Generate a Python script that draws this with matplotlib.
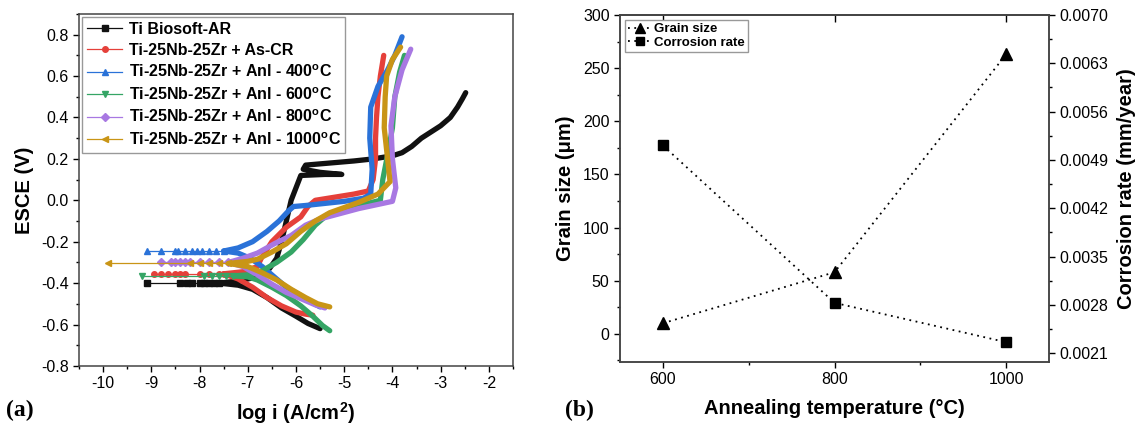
import matplotlib
matplotlib.use("Agg")
import matplotlib.pyplot as plt
from matplotlib.ticker import MultipleLocator, FixedLocator

plt.rcParams['font.family'] = ['Liberation Sans', 'DejaVu Sans']
plt.rcParams['mathtext.fontset'] = 'custom'
plt.rcParams['mathtext.rm'] = 'Liberation Sans'
plt.rcParams['mathtext.bf'] = 'Liberation Sans:bold'
plt.rcParams['axes.unicode_minus'] = False

# ---------------- (a) potentiodynamic polarization curves ----------------
labels_a = ['Ti Biosoft-AR', 'Ti-25Nb-25Zr + As-CR',
            'Ti-25Nb-25Zr + Anl - 400$^{\\mathbf{o}}$C',
            'Ti-25Nb-25Zr + Anl - 600$^{\\mathbf{o}}$C',
            'Ti-25Nb-25Zr + Anl - 800$^{\\mathbf{o}}$C',
            'Ti-25Nb-25Zr + Anl - 1000$^{\\mathbf{o}}$C']

# corrosion potentials (V) and the sparse points near them (log i)
ecorr = [-0.40, -0.355, -0.245, -0.365, -0.30, -0.305]
tail_biosoft = [-9.1, -8.4, -8.25, -8.15, -8.0, -7.9, -7.8, -7.7, -7.6]
tail_ascr = [-8.95, -8.8, -8.65, -8.5, -8.4, -8.3, -8.0, -7.8, -7.6, -7.5]
tail_400 = [-9.1, -8.8, -8.5, -8.45, -8.3, -8.15, -8.05, -7.95, -7.8, -7.65, -7.5]
tail_600 = [-9.2, -7.9, -7.75, -7.6, -7.45, -7.3]
tail_800 = [-8.8, -8.6, -8.5, -8.4, -8.3, -8.2, -8.0, -7.8, -7.6, -7.4]
tail_1000 = [-9.9, -8.2, -8.0, -7.8, -7.6, -7.4]

# cathodic branches (log i, E)
cat_biosoft_i = [-7.6, -7.2, -6.9, -6.6, -6.3, -6.0, -5.75, -5.5]
cat_biosoft_e = [-0.40, -0.41, -0.43, -0.47, -0.52, -0.56, -0.595, -0.62]
cat_ascr_i = [-7.5, -7.2, -6.9, -6.6, -6.3, -6.0, -5.8, -5.65]
cat_ascr_e = [-0.355, -0.38, -0.42, -0.47, -0.51, -0.54, -0.55, -0.555]
cat_400_i = [-7.5, -7.2, -6.95, -6.7, -6.45, -6.2, -5.9, -5.7, -5.5]
cat_400_e = [-0.245, -0.255, -0.28, -0.32, -0.37, -0.42, -0.46, -0.49, -0.515]
cat_600_i = [-7.3, -7.0, -6.8, -6.5, -6.2, -5.9, -5.65, -5.45, -5.3]
cat_600_e = [-0.365, -0.37, -0.385, -0.42, -0.46, -0.51, -0.56, -0.605, -0.63]
cat_800_i = [-7.4, -7.1, -6.8, -6.5, -6.2, -5.9, -5.6, -5.4]
cat_800_e = [-0.30, -0.32, -0.36, -0.405, -0.445, -0.475, -0.505, -0.52]
cat_1000_i = [-7.4, -7.0, -6.7, -6.4, -6.1, -5.8, -5.55, -5.3]
cat_1000_e = [-0.305, -0.32, -0.35, -0.385, -0.43, -0.47, -0.50, -0.515]

# anodic branches (log i, E)
an_biosoft_i = [-7.6, -7.2, -6.8, -6.55, -6.4, -6.3, -6.2, -6.1, -6.0, -5.9,
                -5.4, -5.05, -5.5, -5.85, -5.8, -5.3, -4.8, -4.4, -4.0, -3.8,
                -3.6, -3.4, -3.2, -3.0, -2.8, -2.65, -2.55, -2.48]
an_biosoft_e = [-0.40, -0.39, -0.37, -0.33, -0.28, -0.20, -0.10, 0.0, 0.06, 0.12,
                0.125, 0.125, 0.135, 0.15, 0.17, 0.18, 0.19, 0.20, 0.215, 0.23,
                0.26, 0.30, 0.33, 0.36, 0.40, 0.45, 0.49, 0.52]
an_ascr_i = [-7.5, -7.1, -6.8, -6.72, -6.5, -6.2, -5.9, -5.75, -5.6, -5.2,
             -4.8, -4.5, -4.4, -4.35, -4.35, -4.33, -4.3, -4.25, -4.18]
an_ascr_e = [-0.355, -0.345, -0.32, -0.28, -0.20, -0.13, -0.08, -0.03, 0.0, 0.015,
             0.03, 0.045, 0.10, 0.20, 0.30, 0.40, 0.50, 0.60, 0.70]
an_400_i = [-7.5, -7.2, -6.9, -6.6, -6.35, -6.15, -6.05, -5.8, -5.4, -5.0,
            -4.6, -4.45, -4.42, -4.47, -4.45, -4.3, -4.1, -3.95, -3.8]
an_400_e = [-0.245, -0.23, -0.20, -0.15, -0.10, -0.05, -0.03, -0.025, -0.015, -0.005,
            0.01, 0.03, 0.15, 0.30, 0.45, 0.55, 0.63, 0.70, 0.79]
an_600_i = [-7.3, -7.0, -6.7, -6.4, -6.1, -5.85, -5.6, -5.35, -5.0, -4.6,
            -4.25, -4.2, -4.1, -4.0, -3.95, -3.85, -3.75]
an_600_e = [-0.365, -0.36, -0.34, -0.30, -0.25, -0.19, -0.12, -0.07, -0.04, -0.02,
            0.0, 0.10, 0.22, 0.35, 0.50, 0.62, 0.70]
an_800_i = [-7.4, -7.1, -6.8, -6.45, -6.1, -5.8, -5.5, -5.1, -4.7, -4.3,
            -4.0, -3.93, -4.0, -4.03, -3.95, -3.8, -3.62]
an_800_e = [-0.30, -0.28, -0.255, -0.21, -0.17, -0.12, -0.09, -0.065, -0.04, -0.02,
            -0.005, 0.06, 0.20, 0.36, 0.50, 0.63, 0.73]
an_1000_i = [-7.4, -7.0, -6.8, -6.5, -6.2, -5.9, -5.6, -5.3, -5.0, -4.7,
             -4.3, -4.05, -4.1, -4.17, -4.15, -4.12, -4.0, -3.83]
an_1000_e = [-0.305, -0.295, -0.285, -0.25, -0.21, -0.15, -0.10, -0.06, -0.035, -0.01,
             0.03, 0.09, 0.20, 0.35, 0.50, 0.60, 0.68, 0.74]

colors_a = ['#111111', '#e5403a', '#2a72d8', '#35a565', '#a878e2', '#c99516']
markers_a = ['s', 'o', '^', 'v', 'D', '<']
tails = [tail_biosoft, tail_ascr, tail_400, tail_600, tail_800, tail_1000]
cathodic = [(cat_biosoft_i, cat_biosoft_e), (cat_ascr_i, cat_ascr_e), (cat_400_i, cat_400_e),
            (cat_600_i, cat_600_e), (cat_800_i, cat_800_e), (cat_1000_i, cat_1000_e)]
anodic = [(an_biosoft_i, an_biosoft_e), (an_ascr_i, an_ascr_e), (an_400_i, an_400_e),
          (an_600_i, an_600_e), (an_800_i, an_800_e), (an_1000_i, an_1000_e)]

# ---------------- (b) grain size / corrosion rate ----------------
anneal_temp = [600, 800, 1000]
grain_size = [10, 58, 263]
corrosion_rate = [0.00511, 0.00283, 0.00226]
rate_ticks = [0.0021, 0.0028, 0.0035, 0.0042, 0.0049, 0.0056, 0.0063, 0.0070]

fig = plt.figure(figsize=(11.45, 4.24), dpi=100)
ax_a = fig.add_axes([0.069, 0.137, 0.379, 0.830])
ax_b = fig.add_axes([0.5415, 0.1474, 0.3747, 0.8172])

for k in range(6):
    c = colors_a[k]
    ax_a.plot(tails[k], [ecorr[k]] * len(tails[k]), color=c, lw=0.9,
              marker=markers_a[k], ms=4, label=labels_a[k])
    ax_a.plot(*cathodic[k], color=c, lw=3.8, solid_capstyle='round', solid_joinstyle='round')
    ax_a.plot(*anodic[k], color=c, lw=3.8, solid_capstyle='round', solid_joinstyle='round')

ax_a.set_xlim(-10.5, -1.5)
ax_a.set_ylim(-0.8, 0.9)
ax_a.xaxis.set_major_locator(FixedLocator(range(-10, -1)))
ax_a.xaxis.set_minor_locator(MultipleLocator(0.5))
ax_a.yaxis.set_major_locator(FixedLocator([-0.8, -0.6, -0.4, -0.2, 0.0, 0.2, 0.4, 0.6, 0.8]))
ax_a.yaxis.set_minor_locator(MultipleLocator(0.1))
ax_a.tick_params(which='both', direction='out', labelsize=11.5, width=1)
ax_a.tick_params(which='major', length=4)
ax_a.tick_params(which='minor', length=2.5)
ax_a.set_xlabel('log i (A/cm$^{\\mathbf{2}}$)', fontsize=14.5, fontweight='bold', labelpad=6)
ax_a.set_ylabel('ESCE (V)', fontsize=14.5, fontweight='bold', labelpad=5)
for s in ax_a.spines.values():
    s.set_color('#444444')
    s.set_linewidth(1.1)
leg = ax_a.legend(loc='upper left', prop={'size': 11.5, 'weight': 'bold'}, fancybox=False,
                  edgecolor='#999999', framealpha=1, labelspacing=0.37, borderaxespad=0.2,
                  handlelength=2.2, handletextpad=0.4, borderpad=0.3)
leg.get_frame().set_linewidth(1.0)

dotted = (0, (1, 2.5))
ax_b.plot(anneal_temp, grain_size, color='black', ls=dotted, lw=1.3, marker='^', ms=8.5,
          label='Grain size')
ax_r = ax_b.twinx()
ax_r.plot(anneal_temp, corrosion_rate, color='black', ls=dotted, lw=1.3, marker='s', ms=7.5,
          label='Corrosion rate')

ax_b.set_xlim(550, 1050)
ax_b.set_ylim(-26, 300)
ax_r.set_ylim(0.00198, 0.0070)
ax_b.xaxis.set_major_locator(FixedLocator(anneal_temp))
ax_b.xaxis.set_minor_locator(FixedLocator([700, 900]))
ax_b.yaxis.set_major_locator(MultipleLocator(50))
ax_b.yaxis.set_minor_locator(MultipleLocator(25))
ax_r.yaxis.set_major_locator(FixedLocator(rate_ticks))
ax_r.yaxis.set_minor_locator(MultipleLocator(0.00035))
ax_r.set_yticklabels(['%.4f' % v for v in rate_ticks])
for a in (ax_b, ax_r):
    a.tick_params(which='both', direction='out', labelsize=11.5, width=1)
    a.tick_params(which='major', length=4)
    a.tick_params(which='minor', length=2.5)
    for s in a.spines.values():
        s.set_color('#444444')
        s.set_linewidth(1.1)

# inward major ticks along the top
ax_top = ax_b.secondary_xaxis('top')
ax_top.set_xticks(anneal_temp)
ax_top.set_xticklabels([])
ax_top.tick_params(direction='in', length=5, width=1)
ax_top.spines['top'].set_color('#444444')
ax_top.spines['top'].set_linewidth(1.1)

ax_b.set_xlabel('Annealing temperature (\u00b0C)', fontsize=14.5, fontweight='bold', labelpad=9)
ax_b.set_ylabel('Grain size (\u03bcm)', fontsize=14.5, fontweight='bold', labelpad=6)
ax_r.set_ylabel('Corrosion rate (mm/year)', fontsize=14.5, fontweight='bold', labelpad=6)

h1, l1 = ax_b.get_legend_handles_labels()
h2, l2 = ax_r.get_legend_handles_labels()
leg_b = ax_r.legend(h1 + h2, l1 + l2, loc='upper left', prop={'size': 9.5, 'weight': 'bold'},
                    fancybox=False, edgecolor='#999999', framealpha=1, labelspacing=0.12,
                    borderaxespad=0.35, handlelength=1.8, handletextpad=0.2, borderpad=0.25,
                    markerscale=0.85)
leg_b.get_frame().set_linewidth(1.0)

fig.text(0.005, 0.033, '(a)', family='Liberation Serif', fontweight='bold', fontsize=17,
         va='center', ha='left')
fig.text(0.4935, 0.033, '(b)', family='Liberation Serif', fontweight='bold', fontsize=17,
         va='center', ha='left')

fig.savefig('out.png', dpi=100)
